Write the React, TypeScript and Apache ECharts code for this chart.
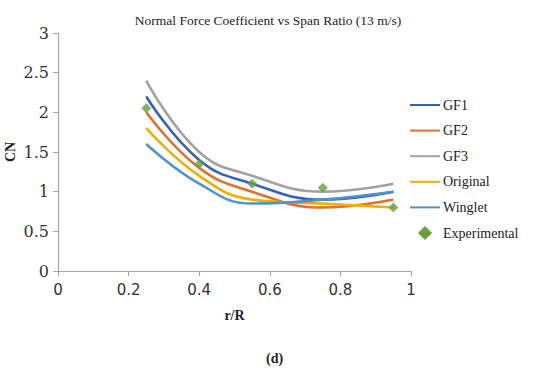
import React, { useEffect, useRef } from "react";
import * as echarts from "echarts";

const spanRatio = [0.25, 0.4, 0.55, 0.75, 0.95];
const gf1 = [2.2, 1.4, 1.1, 0.9, 1.0];
const gf2 = [2.0, 1.3, 1.0, 0.8, 0.9];
const gf3 = [2.4, 1.5, 1.2, 1.0, 1.1];
const original = [1.8, 1.2, 0.9, 0.85, 0.8];
const winglet = [1.6, 1.1, 0.85, 0.9, 1.0];
const experimental = [2.05, 1.35, 1.1, 1.05, 0.8];

const seriesNames = ["GF1", "GF2", "GF3", "Original", "Winglet"];
const seriesValues = [gf1, gf2, gf3, original, winglet];
const colors = ["#3462B5", "#E2702A", "#A2A2A2", "#EDB000", "#4F92D2"];
const expColor = "#67A03D";

const pair = (vals: number[]) => spanRatio.map((x, i) => [x, vals[i]]);

export default function App() {
  const ref = useRef<HTMLDivElement>(null);
  useEffect(() => {
    if (!ref.current) return;
    const chart = echarts.init(ref.current, null, { renderer: "svg" });
    const serif = "'Liberation Serif', 'Times New Roman', serif";
    const wideSerif = "'DejaVu Serif', serif";
    const sans = "'DejaVu Sans', sans-serif";
    chart.setOption({
      animation: false,
      backgroundColor: "#ffffff",
      title: {
        text: "Normal Force Coefficient vs Span Ratio (13 m/s)",
        left: 263,
        textAlign: "center",
        top: 8,
        textStyle: { fontFamily: serif, fontSize: 13.5, fontWeight: "normal", color: "#222" },
      },
      grid: { left: 58, right: 139, top: 33, bottom: 99, outerBoundsMode: "none", containLabel: false },
      xAxis: {
        type: "value",
        min: 0,
        max: 1,
        interval: 0.2,
        name: "r/R",
        nameLocation: "middle",
        nameGap: 37,
        nameMoveOverlap: false,
        nameTextStyle: { fontFamily: serif, fontSize: 14, fontWeight: "bold", color: "#222" },
        axisLine: { lineStyle: { color: "#A6A6A6", width: 1.2 } },
        axisTick: { show: true, length: 5, lineStyle: { color: "#A6A6A6" } },
        splitLine: { show: false },
        axisLabel: { fontFamily: sans, fontSize: 15, color: "#333", margin: 11 },
      },
      yAxis: {
        type: "value",
        min: 0,
        max: 3,
        interval: 0.5,
        name: "CN",
        nameLocation: "middle",
        nameGap: 41,
        nameMoveOverlap: false,
        nameRotate: 90,
        nameTextStyle: { fontFamily: serif, fontSize: 14, fontWeight: "bold", color: "#222" },
        axisLine: { show: true, lineStyle: { color: "#A6A6A6", width: 1.2 } },
        axisTick: { show: true, length: 5, lineStyle: { color: "#A6A6A6" } },
        splitLine: { show: false },
        axisLabel: { fontFamily: wideSerif, fontSize: 16, color: "#333", margin: 9 },
      },
      legend: {
        orient: "vertical",
        left: 409,
        top: 98,
        padding: 0,
        itemWidth: 30,
        itemHeight: 14,
        itemGap: 11.6,
        symbolKeepAspect: true,
        itemStyle: { opacity: 0 },
        textStyle: { fontFamily: serif, fontSize: 14, color: "#222", padding: [0, 0, 0, -2] },
        data: [
          ...seriesNames,
          {
            name: "Experimental",
            icon: "path://M5,0 L10,5 L5,10 L0,5 Z",
            itemStyle: { color: expColor, opacity: 1 },
          },
        ],
      },
      series: [
        ...seriesNames.map((name, i) => ({
          name,
          type: "line",
          smooth: 0.45,
          symbol: "none",
          data: pair(seriesValues[i]),
          lineStyle: { color: colors[i], width: 2.6 },
          itemStyle: { color: colors[i] },
        })),
        {
          name: "Experimental",
          type: "scatter",
          symbol: "diamond",
          symbolSize: 10,
          data: pair(experimental),
          itemStyle: { color: expColor },
          z: 5,
        },
      ],
      graphic: [
        {
          type: "text",
          left: 266,
          top: 351,
          style: { text: "(d)", fontFamily: serif, fontSize: 14, fontWeight: "bold", fill: "#222" },
        },
      ],
    });
    return () => chart.dispose();
  }, []);
  return (
    <div
      ref={ref}
      style={{ position: "absolute", left: 0, top: 0, width: 550, height: 370 }}
    />
  );
}
